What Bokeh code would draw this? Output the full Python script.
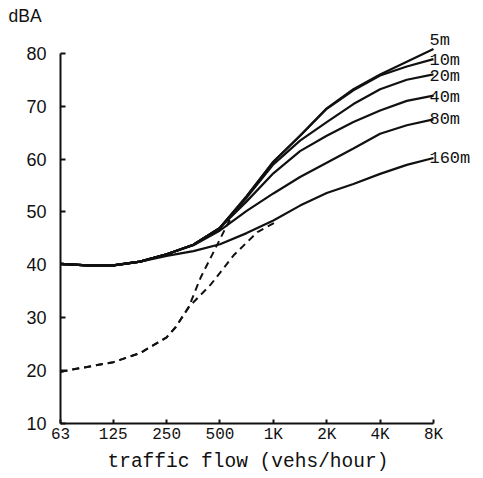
from bokeh.plotting import figure
from bokeh.models import Range1d, FixedTicker, ColumnDataSource, LabelSet, Title
from bokeh.core.properties import value
from bokeh.embed import file_html
from bokeh.resources import INLINE

# ---- data ----
flow = [63, 89, 125, 177, 250, 354, 500, 707, 1000, 1414, 2000, 2828, 4000, 5657, 8000]

level_5m   = [40.2, 39.9, 39.9, 40.6, 42.0, 43.8, 47.0, 53.0, 59.5, 64.4, 69.6, 73.2, 76.0, 78.4, 80.8]
level_10m  = [40.2, 39.9, 39.9, 40.6, 42.0, 43.8, 47.0, 53.0, 59.5, 64.4, 69.5, 73.0, 75.8, 77.5, 78.9]
level_20m  = [40.2, 39.9, 39.9, 40.6, 42.0, 43.8, 47.0, 52.7, 59.0, 63.5, 67.0, 70.4, 73.2, 75.0, 76.0]
level_40m  = [40.2, 39.9, 39.9, 40.6, 42.0, 43.8, 47.0, 52.0, 57.3, 61.5, 64.4, 67.0, 69.2, 71.0, 72.0]
level_80m  = [40.2, 39.9, 39.9, 40.6, 42.0, 43.7, 46.5, 50.2, 53.5, 56.6, 59.3, 62.0, 64.8, 66.4, 67.5]
level_160m = [40.2, 39.9, 39.9, 40.6, 41.7, 42.6, 43.9, 46.0, 48.4, 51.2, 53.6, 55.3, 57.2, 58.9, 60.2]

series_names = ["5m", "10m", "20m", "40m", "80m", "160m"]
series_levels = [level_5m, level_10m, level_20m, level_40m, level_80m, level_160m]

dash_a_flow = [63, 89, 125, 177, 250, 281, 333, 389, 474, 575]
dash_a_level = [19.8, 20.7, 21.6, 23.3, 26.3, 28.2, 32.0, 37.6, 43.3, 48.9]
dash_b_flow = [63, 89, 125, 177, 250, 281, 333, 444, 597, 813, 1060]
dash_b_level = [19.8, 20.7, 21.6, 23.3, 26.3, 28.2, 32.0, 36.3, 41.8, 46.2, 48.3]

x_ticks = [63, 125, 250, 500, 1000, 2000, 4000, 8000]
x_tick_labels = ["63", "125", "250", "500", "1K", "2K", "4K", "8K"]
y_ticks = [10, 20, 30, 40, 50, 60, 70, 80]

# ---- figure ----
INK = "#111111"
p = figure(width=482, height=477, x_axis_type="log",
           x_range=Range1d(63, 14170), y_range=Range1d(10, 84.5),
           output_backend="svg", toolbar_location=None,
           min_border_left=60, min_border_right=5,
           min_border_top=28, min_border_bottom=54)
p.xgrid.visible = False
p.ygrid.visible = False
p.outline_line_color = None
p.background_fill_color = "white"
p.border_fill_color = "white"

p.title.text = "dBA"
p.title.align = "left"
p.title.offset = -52
p.title.standoff = 7
p.title.text_font = "Liberation Sans"
p.title.text_font_size = "17.5px"
p.title.text_font_style = "normal"
p.title.text_color = INK

xa = p.xaxis[0]
xa.ticker = FixedTicker(ticks=x_ticks)
xa.bounds = (63, 8000)
xa.major_label_overrides = {t: s for t, s in zip(x_ticks, x_tick_labels)}
xa.minor_tick_line_color = None
xa.major_tick_in = 4
xa.major_tick_out = 0
xa.major_tick_line_width = 2
xa.major_tick_line_color = INK
xa.axis_line_width = 2
xa.axis_line_color = INK
xa.major_label_standoff = 2
xa.major_label_text_font = "Liberation Mono"
xa.major_label_text_font_size = "16px"
xa.major_label_text_color = INK

p.add_layout(Title(text="traffic flow (vehs/hour)", align="left", offset=47,
                   standoff=4, text_font="Liberation Mono", text_font_size="19.5px",
                   text_font_style="normal", text_color=INK), "below")

ya = p.yaxis[0]
ya.ticker = FixedTicker(ticks=y_ticks)
ya.bounds = (10, 80)
ya.minor_tick_line_color = None
ya.major_tick_in = 5
ya.major_tick_out = 0
ya.major_tick_line_width = 2
ya.major_tick_line_color = INK
ya.axis_line_width = 2
ya.axis_line_color = INK
ya.major_label_standoff = 14
ya.major_label_text_font = "Liberation Sans"
ya.major_label_text_font_size = "18px"
ya.major_label_text_color = INK

for lv in series_levels:
    p.line(flow, lv, line_color=INK, line_width=2.2)

p.line(dash_a_flow, dash_a_level, line_color=INK, line_width=2, line_dash="7 5")
p.line(dash_b_flow, dash_b_level, line_color=INK, line_width=2, line_dash="7 5")

lab_src = ColumnDataSource(dict(
    x=[flow[-1]] * len(series_names),
    y=[lv[-1] for lv in series_levels],
    text=series_names,
    dy=[9, -1, -2, -1.5, 0, 0],
))
p.add_layout(LabelSet(x="x", y="y", text="text", source=lab_src,
                      y_offset="dy", x_offset=-4,
                      text_font=value("Liberation Mono"), text_font_size="17px",
                      text_baseline="middle", text_align="left", text_color=INK))

open("out.html", "w").write(file_html(p, INLINE))
